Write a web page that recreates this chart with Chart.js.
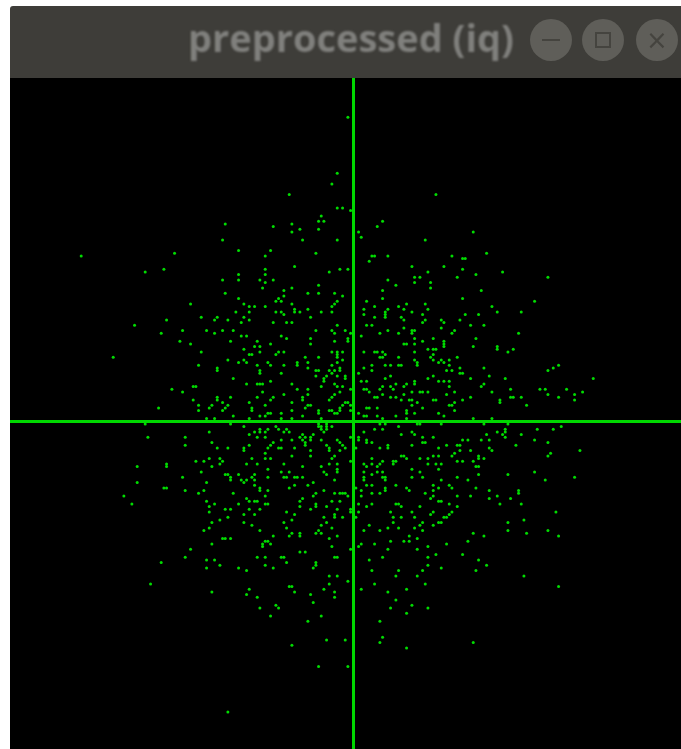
<!DOCTYPE html>
<html>
<head>
<meta charset="utf-8">
<title>preprocessed (iq)</title>
<script src="https://cdn.jsdelivr.net/npm/chart.js@4/dist/chart.umd.min.js"></script>
<style>
html, body { margin: 0; padding: 0; background: #fff; overflow: hidden; }
#titlebar { position: absolute; left: 10px; top: 6px; width: 671px; height: 72px; background: #3e3d39; border-radius: 3px 0 0 0; overflow: hidden; }
#titletext { position: absolute; right: 167px; top: 5px; font: bold 38px "Open Sans", sans-serif; color: #80807d; white-space: nowrap; filter: blur(0.8px); }
.btn { position: absolute; top: 13px; width: 42px; height: 42px; border-radius: 50%; background: #5f5e59; filter: blur(0.5px); }
#minus { position: absolute; left: 12px; top: 20px; width: 18px; height: 2px; background: #45443f; }
#square { position: absolute; left: 13px; top: 13px; width: 12px; height: 12px; border: 2px solid #45443f; }
#close { position: absolute; left: 0; right: 0; top: 0; text-align: center; font: 26px/42px "DejaVu Sans", sans-serif; color: #45443f; }
#plot { position: absolute; left: 10px; top: 78px; width: 671px; height: 671px; background: #000; }
</style>
</head>
<body>
<div id="titlebar">
	<div id="titletext">preprocessed (iq)</div>
	<div class="btn" style="left:520px"><div id="minus"></div></div>
	<div class="btn" style="left:572px"><div id="square"></div></div>
	<div class="btn" style="left:626px"><div id="close">×</div></div>
</div>
<div id="plot"><canvas id="iq" width="671" height="671"></canvas></div>
<script>
// IQ samples, as [i, q], one list per region
var upperLeftFar = [[-2,114],[-6,93],[-8,89],[-24,85],[-6,80],[-4,80],[-1,79],[-12,77],[-13,75],[-11,75],[-48,74],[-23,74],[-30,73],[-20,72],[-13,72],[-23,71],[-49,68],[-19,68],[-6,68],[-43,64],[-31,64],[-14,63],[-67,63],[-102,62],[-33,62],[-22,58],[-71,57],[-33,57],[-5,57],[-2,57],[-78,56],[-9,56],[-43,55],[-33,55],[-49,53],[-43,53],[-35,53],[-30,53],[-33,52],[-13,51],[-34,50],[-23,50],[-26,49],[-48,48],[-17,48],[-13,48],[-7,48],[-26,47],[-4,47],[-43,46],[-28,46],[-29,45],[-27,45],[-6,45],[-7,44],[-61,44],[-41,44],[-23,44],[-39,43],[-37,43],[-33,43],[-8,43],[-17,42],[-22,42],[-22,41],[-44,41],[-39,41],[-29,41],[-27,41],[-20,41],[-12,41],[-8,41],[-26,40],[-57,39],[-51,39],[-41,39],[-16,39],[-70,38],[-52,38],[-47,38],[-39,38]];
var upperRightFar = [[31,85],[11,75],[9,73],[2,71],[45,71],[3,69],[27,68],[50,63],[7,62],[8,62],[13,62],[37,62],[41,61],[42,61],[6,60],[22,58],[34,58],[41,57],[28,56],[56,56],[46,55],[23,54],[25,54],[39,54],[73,54],[13,53],[16,51],[23,52],[29,52],[29,50],[11,49],[48,49],[11,46],[41,46],[5,45],[68,45],[20,44],[27,44],[8,43],[17,43],[52,43],[4,42],[13,42],[19,42],[28,42],[22,41],[54,41],[63,41],[12,41],[12,40],[12,39],[4,40],[26,40],[42,40],[47,40],[8,39],[18,39],[19,38],[27,38],[33,38],[40,38]];
var upperLeftNear = [[-82,36],[-42,37],[-30,37],[-25,37],[-23,37],[-6,36],[-72,33],[-64,34],[-55,34],[-52,33],[-49,34],[-45,34],[-14,34],[-8,34],[-7,33],[-3,34],[-1,33],[-42,32],[-40,32],[-27,32],[-25,31],[-16,31],[-2,31],[-2,30],[-65,30],[-46,30],[-36,30],[-7,30],[-61,29],[-31,29],[-16,29],[-37,28],[-35,28],[-41,27],[-57,26],[-35,26],[-28,26],[-26,26],[-8,26],[-6,26],[-4,26],[-6,25],[-6,24],[-38,25],[-39,25],[-29,25],[-90,24],[-18,24],[-13,24],[-41,23],[-47,23],[-4,23],[-43,22],[-40,22],[-32,22],[-17,22],[-6,22],[-58,21],[-36,21],[-31,21],[-26,21],[-21,22],[-21,21],[-8,21],[-17,20],[-5,20],[-5,19],[-51,20],[-51,19],[-9,19],[-7,19],[-14,19],[-13,19],[-35,19],[-35,18],[-8,18],[-27,18],[-14,17],[-10,17],[-6,17],[-3,17],[-3,16],[-11,16],[-11,15],[-45,16],[-31,15],[-40,14],[-36,14],[-35,14],[-34,14],[-23,14],[-7,14],[-60,13],[-59,13],[-12,13],[-6,13],[-4,13],[-1,12],[-68,12],[-21,12],[-17,12],[-64,11],[-34,11],[-5,11],[-26,10],[-17,10],[-7,10],[-46,9],[-36,9],[-30,9],[-51,9],[-51,8],[-8,9],[-19,9],[-19,8],[-60,8],[-31,8],[-9,8],[-49,7],[-39,7],[-23,7],[-3,7],[-2,7],[-58,6],[-53,6],[-47,6],[-33,6],[-17,6],[-16,6],[-4,6],[-1,6],[-73,5],[-54,5],[-48,5],[-38,5],[-38,4],[-18,5],[-5,5],[-5,4],[-58,4],[-49,4],[-23,4],[-13,4],[-13,3],[-9,4],[-8,4],[-1,4],[-32,3],[-31,3],[-27,3],[-7,3],[-6,3],[-45,2],[-35,2],[-33,2],[-19,2],[-55,1],[-52,1],[-39,1],[-27,1],[-23,1],[-12,1]];
var upperRightNear = [[5,36],[7,36],[26,37],[34,37],[33,35],[44,36],[49,36],[19,35],[13,34],[10,33],[17,33],[22,34],[22,33],[23,34],[38,34],[37,33],[62,33],[3,32],[23,31],[30,31],[46,31],[26,30],[34,30],[34,29],[34,28],[19,29],[20,29],[23,29],[45,28],[54,28],[54,27],[28,27],[30,27],[31,27],[60,27],[4,26],[8,26],[9,26],[11,26],[23,26],[58,26],[12,25],[30,25],[29,24],[10,24],[11,24],[17,24],[39,24],[23,23],[30,23],[36,23],[33,23],[24,22],[24,21],[32,22],[34,22],[7,21],[12,21],[14,21],[17,21],[18,21],[36,21],[77,21],[4,20],[40,20],[49,20],[75,20],[7,19],[35,19],[37,19],[73,19],[2,18],[40,18],[41,18],[14,17],[30,17],[51,17],[12,16],[28,16],[44,16],[57,16],[90,16],[3,15],[5,15],[23,15],[23,14],[32,15],[34,15],[36,15],[16,14],[20,14],[49,14],[11,13],[14,13],[19,13],[36,13],[48,13],[4,12],[5,12],[10,12],[15,12],[59,12],[70,12],[72,12],[80,12],[6,11],[22,11],[25,11],[26,11],[28,11],[38,11],[52,11],[86,11],[11,10],[19,10],[35,10],[73,10],[83,10],[8,9],[9,9],[14,9],[16,9],[44,9],[59,9],[60,9],[63,9],[77,9],[18,8],[21,8],[22,8],[30,8],[31,8],[41,8],[55,8],[55,7],[83,8],[24,7],[38,7],[22,6],[36,6],[37,6],[65,6],[5,5],[6,5],[9,5],[26,5],[20,4],[20,3],[38,4],[2,3],[23,3],[32,3],[4,2],[5,2],[9,2],[16,2],[34,2],[11,1],[20,1],[45,1],[52,1]];
var lowerLeftNear = [[-13,-1],[-10,-1],[-78,-1],[-46,-1],[-41,-2],[-12,-2],[-12,-3],[-13,-2],[-10,-2],[-10,-3],[-8,-2],[-29,-2],[-32,-3],[-35,-3],[-35,-4],[-28,-3],[-25,-3],[-37,-4],[-33,-4],[-26,-4],[-24,-4],[-54,-4],[-11,-4],[-15,-5],[-19,-5],[-20,-6],[-18,-6],[-16,-6],[-16,-7],[-77,-6],[-63,-6],[-39,-5],[-36,-6],[-33,-6],[-1,-6],[-27,-7],[-23,-7],[-19,-7],[-12,-7],[-6,-7],[-18,-8],[-18,-9],[-5,-8],[-53,-8],[-30,-8],[-63,-9],[-39,-9],[-31,-9],[-10,-9],[-4,-9],[-3,-10],[-9,-10],[-9,-11],[-51,-10],[-47,-10],[-41,-10],[-41,-11],[-32,-10],[-28,-10],[-27,-10],[-22,-10],[-16,-11],[-5,-11],[-33,-12],[-16,-13],[-23,-13],[-7,-13],[-8,-14],[-33,-14],[-31,-14],[-38,-14],[-54,-14],[-50,-14],[-56,-15],[-59,-15],[-49,-15],[-50,-16],[-40,-16],[-36,-16],[-26,-16],[-12,-17],[-9,-16],[-6,-16],[-1,-15],[-70,-16],[-70,-17],[-53,-17],[-81,-17],[-19,-17],[-32,-18],[-6,-18],[-6,-19],[-57,-19],[-27,-19],[-24,-19],[-11,-19],[-10,-20],[-48,-20],[-47,-20],[-43,-20],[-37,-20],[-64,-21],[-46,-21],[-46,-22],[-38,-21],[-32,-21],[-26,-21],[-25,-21],[-22,-21],[-21,-21],[-19,-21],[-42,-22],[-40,-22],[-37,-22],[-7,-22],[-81,-23],[-55,-23],[-41,-23],[-15,-23],[-37,-24],[-22,-24],[-17,-24],[-71,-25],[-70,-25],[-35,-25],[-35,-26],[-24,-25],[-63,-26],[-56,-26],[-32,-26],[-11,-26],[-58,-27],[-45,-27],[-14,-27],[-7,-27],[-5,-27],[-4,-27],[-3,-27],[-15,-28],[-86,-28],[-33,-28],[-2,-28],[-40,-29],[-19,-29],[-55,-30],[-39,-30],[-37,-30],[-36,-30],[-20,-30],[-8,-30],[-5,-30],[-83,-31],[-52,-31],[-43,-31],[-33,-31],[-32,-31],[-14,-31],[-14,-32],[-54,-32],[-20,-32],[-10,-32],[-48,-33],[-46,-33],[-39,-33],[-35,-33],[-16,-33],[-6,-33],[-1,-33],[-1,-34],[-54,-34],[-25,-34],[-41,-35],[-37,-35],[-22,-35],[-7,-35],[-7,-36],[-11,-36],[-4,-36],[-47,-36],[-50,-37],[-23,-37],[-53,-38],[-41,-38],[-26,-38],[-10,-38],[-38,-39]];
var lowerRightNear = [[10,-1],[12,-1],[24,-1],[25,-1],[33,-1],[49,-1],[58,-1],[17,-2],[4,-4],[8,-3],[11,-3],[22,-4],[23,-5],[18,-5],[26,-6],[30,-6],[2,-6],[2,-7],[5,-7],[5,-8],[7,-8],[26,-8],[27,-8],[41,-7],[43,-7],[48,-7],[51,-7],[50,-5],[54,-4],[57,-3],[57,-4],[56,-5],[57,-6],[63,-5],[69,-3],[75,-3],[78,-2],[68,-7],[73,-8],[13,-9],[13,-10],[22,-9],[35,-9],[39,-9],[40,-9],[61,-9],[10,-10],[32,-10],[51,-10],[52,-11],[40,-11],[44,-11],[85,-11],[1,-10],[38,-12],[74,-12],[73,-13],[18,-13],[19,-13],[30,-13],[32,-13],[37,-13],[47,-13],[47,-14],[20,-14],[7,-14],[25,-14],[28,-14],[49,-14],[15,-15],[16,-15],[15,-16],[11,-15],[39,-15],[41,-15],[45,-15],[4,-16],[7,-16],[10,-16],[28,-16],[31,-16],[33,-16],[9,-17],[5,-17],[46,-17],[47,-17],[22,-18],[32,-18],[4,-19],[9,-19],[11,-19],[25,-19],[68,-19],[7,-20],[47,-20],[58,-20],[4,-21],[4,-22],[11,-21],[12,-21],[12,-22],[22,-21],[26,-21],[39,-21],[83,-21],[33,-22],[43,-22],[72,-22],[5,-24],[7,-24],[16,-24],[30,-24],[36,-24],[1,-25],[20,-25],[12,-25],[12,-26],[32,-25],[37,-25],[46,-25],[3,-26],[21,-26],[30,-26],[51,-26],[62,-26],[62,-27],[7,-27],[10,-27],[27,-27],[3,-28],[39,-28],[44,-28],[54,-28],[30,-28],[29,-29],[51,-29],[59,-29],[32,-30],[33,-30],[2,-31],[7,-31],[16,-31],[17,-31],[36,-31],[55,-31],[63,-31],[18,-32],[5,-32],[25,-32],[39,-32],[2,-34],[14,-34],[22,-34],[30,-34],[37,-34],[76,-34],[29,-35],[36,-35],[15,-36],[18,-36],[23,-36],[34,-36],[35,-36],[1,-36],[64,-37],[32,-38],[33,-38],[15,-38],[26,-38],[58,-38],[6,-39]];
var lowerLeftFar = [[-12,-39],[-54,-40],[-25,-40],[-8,-40],[-56,-41],[-35,-41],[-13,-41],[-23,-42],[-14,-42],[-12,-42],[-20,-42],[-20,-43],[-30,-43],[-24,-43],[-6,-43],[-49,-44],[-48,-44],[-46,-44],[-9,-44],[-33,-45],[-32,-45],[-53,-46],[-31,-46],[-34,-46],[-34,-47],[-8,-47],[-61,-48],[-1,-48],[-20,-49],[-18,-49],[-63,-51],[-36,-51],[-33,-51],[-27,-51],[-26,-51],[-7,-51],[-6,-51],[-55,-52],[-52,-52],[-72,-53],[-25,-53],[-14,-53],[-14,-54],[-50,-54],[-33,-54],[-55,-55],[-43,-55],[-30,-55],[-15,-55],[-40,-56],[-9,-58],[-6,-58],[-2,-60],[-76,-61],[-9,-61],[-24,-62],[-23,-62],[-39,-63],[-11,-63],[-53,-64],[-22,-64],[-7,-64],[-40,-65],[-16,-65],[-36,-66],[-7,-66],[-15,-68],[-29,-69],[-35,-70],[-28,-70],[-31,-73],[-12,-73],[-17,-75],[-10,-82],[-3,-82],[-23,-84],[-13,-92],[-2,-92],[-47,-109]];
var lowerRightFar = [[25,-39],[30,-39],[4,-41],[10,-41],[13,-40],[17,-40],[23,-40],[26,-41],[58,-41],[73,-41],[45,-42],[65,-42],[21,-43],[49,-43],[77,-43],[24,-44],[14,-45],[19,-45],[21,-45],[43,-45],[3,-46],[8,-46],[35,-46],[2,-47],[28,-47],[13,-48],[24,-48],[31,-50],[41,-50],[11,-51],[28,-51],[6,-52],[47,-52],[28,-54],[50,-54],[33,-55],[7,-56],[17,-56],[26,-56],[46,-56],[16,-58],[24,-58],[64,-58],[8,-61],[27,-61],[3,-63],[20,-63],[77,-62],[13,-64],[16,-67],[22,-69],[14,-70],[28,-70],[20,-72],[10,-75],[11,-81],[10,-83],[45,-83],[20,-85]];

var regions = [upperLeftFar, upperRightFar, upperLeftNear, upperRightNear, lowerLeftNear, lowerRightNear, lowerLeftFar, lowerRightFar];
var points = [];
for (var r = 0; r < regions.length; r++) {
	for (var i = 0; i < regions[r].length; i++) {
		points.push({ x: regions[r][i][0], y: regions[r][i][1] });
	}
}

var green = '#00d800';
function axisAtZero(min, max) {
	return {
		type: 'linear',
		min: min,
		max: max,
		afterBuildTicks: function(scale) { scale.ticks = [{ value: 0 }]; },
		ticks: { display: false },
		border: { display: false },
		grid: { color: green, lineWidth: 3, drawTicks: false }
	};
}

new Chart(document.getElementById('iq'), {
	type: 'scatter',
	data: {
		datasets: [{
			data: points,
			pointRadius: 1.5,
			pointBorderWidth: 0,
			pointBackgroundColor: '#00dc00'
		}]
	},
	options: {
		responsive: false,
		animation: false,
		events: [],
		layout: { padding: 0, autoPadding: false },
		plugins: { legend: { display: false }, tooltip: { enabled: false } },
		scales: {
			x: axisAtZero(-128.7, 122.9),
			y: axisAtZero(-122.9, 128.7)
		}
	}
});
</script>
</body>
</html>
